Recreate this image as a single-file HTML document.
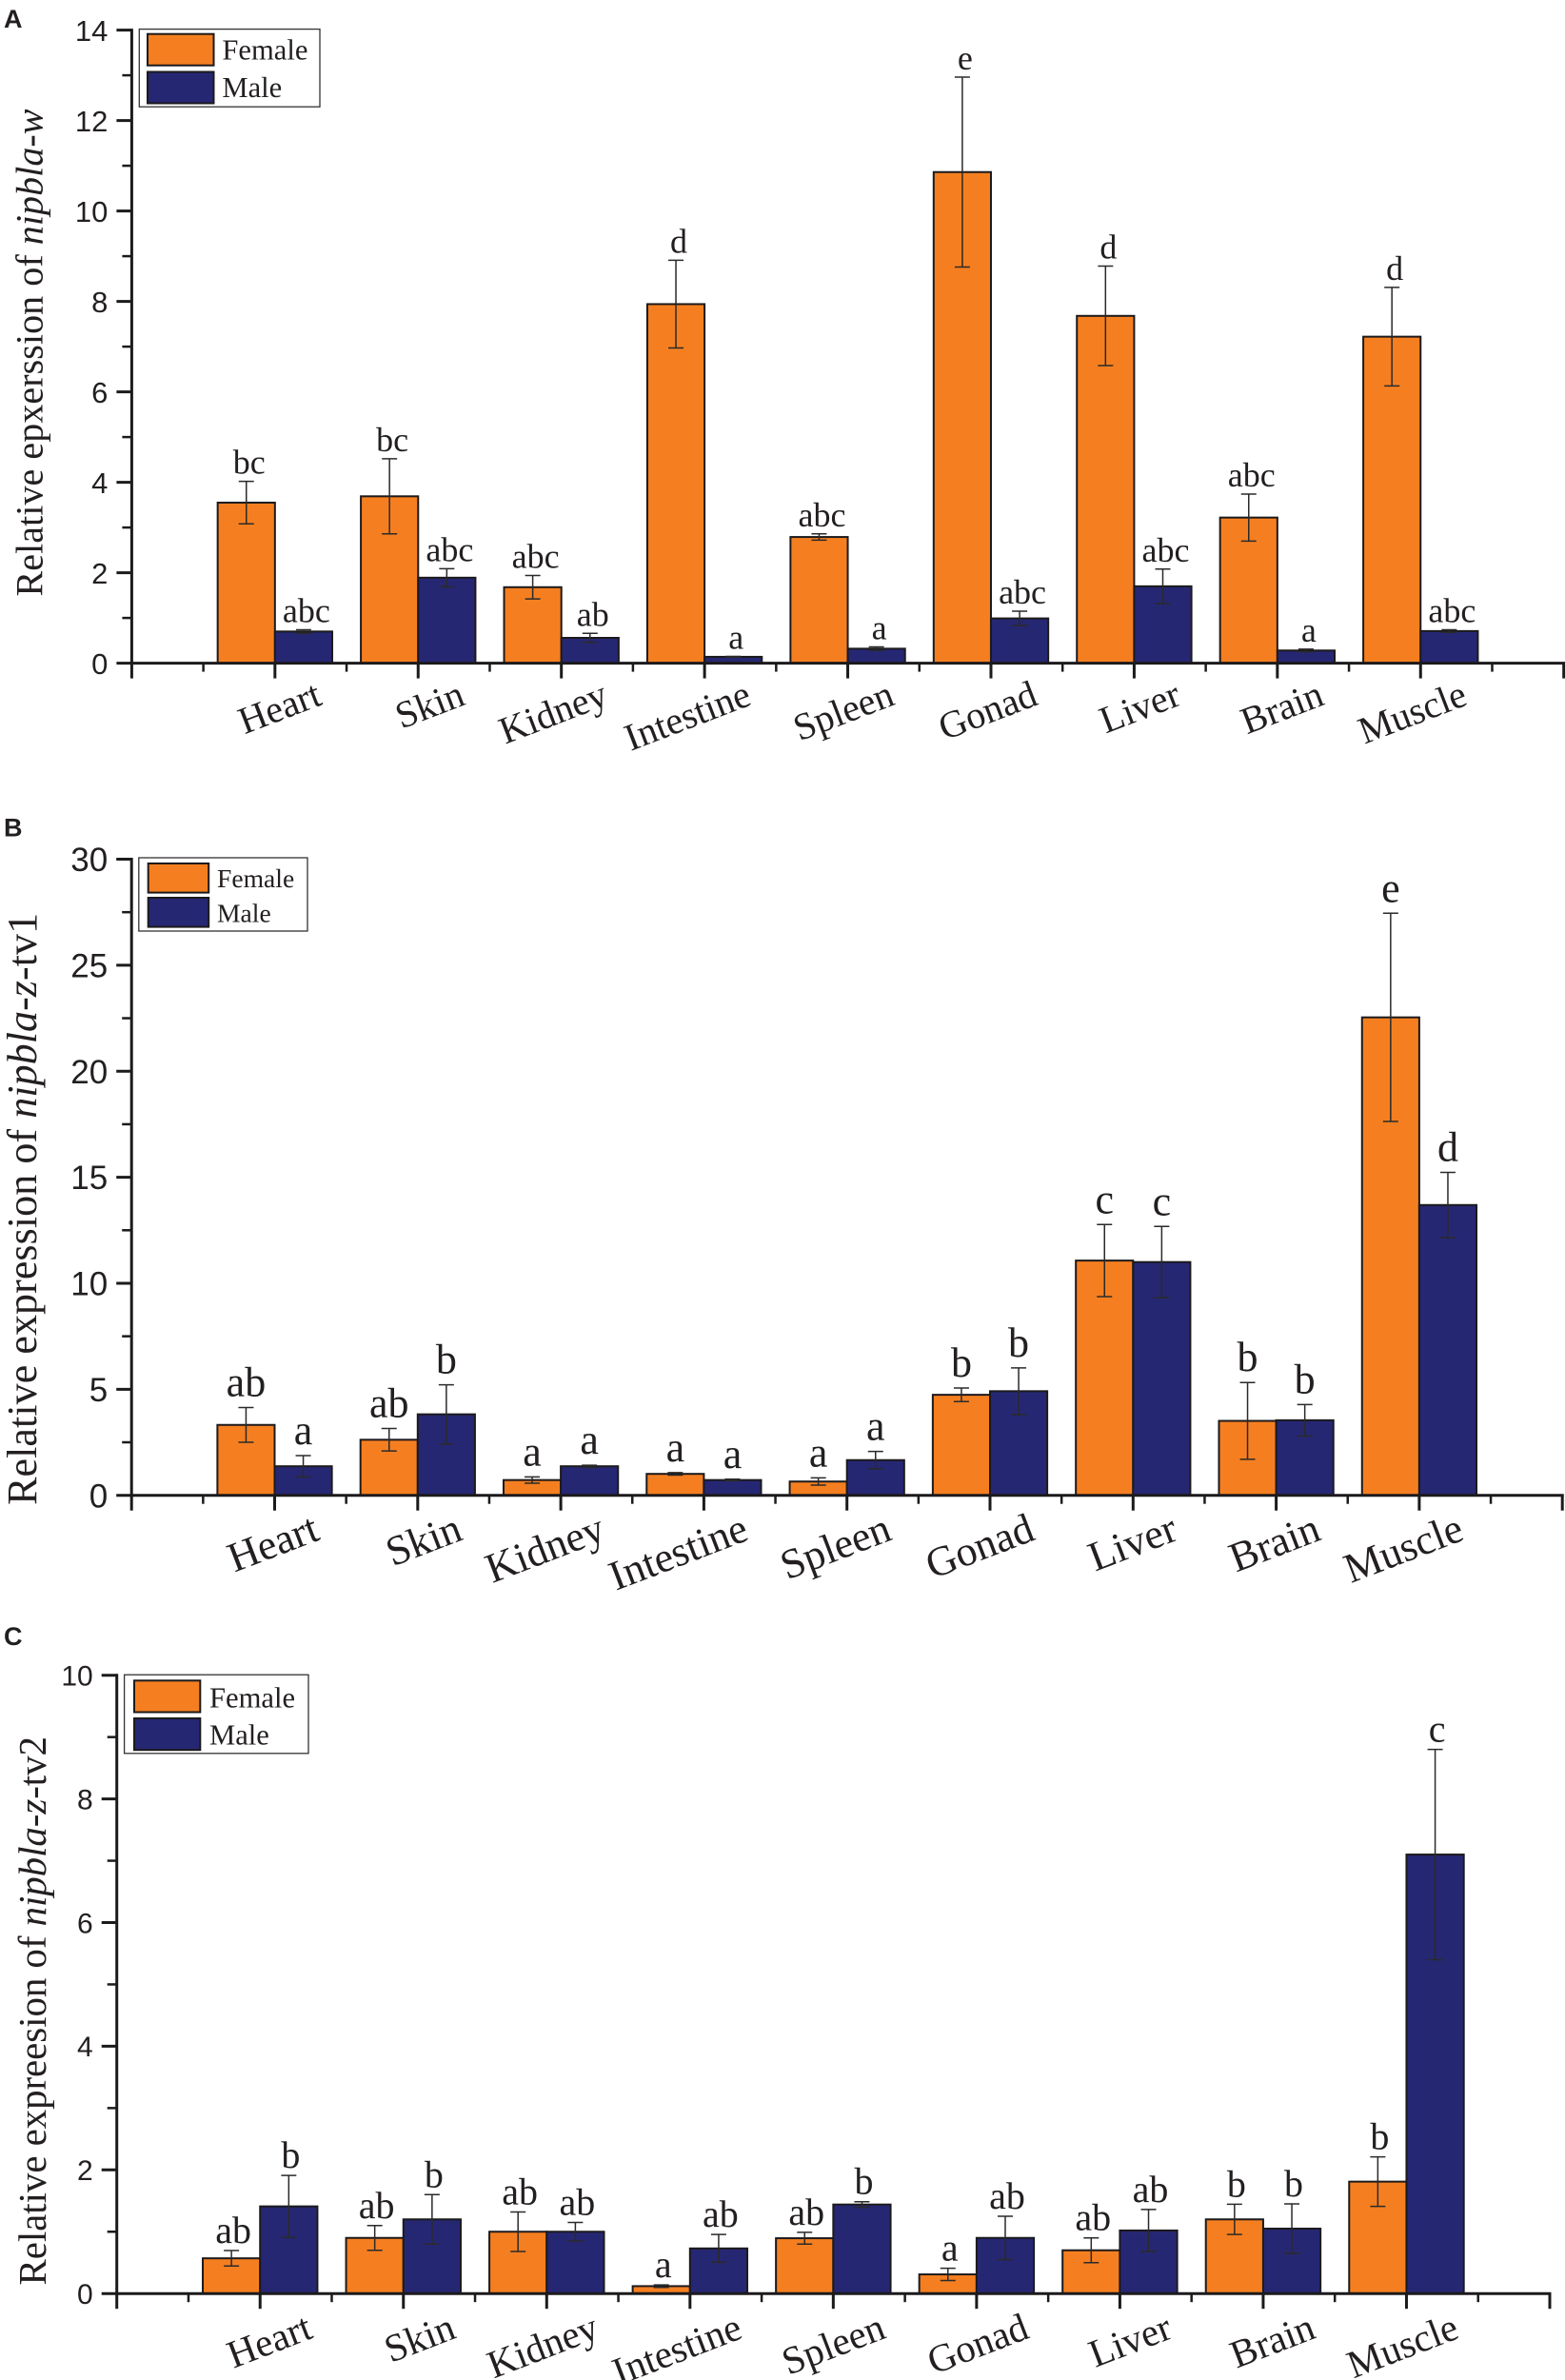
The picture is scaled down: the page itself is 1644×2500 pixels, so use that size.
<!DOCTYPE html>
<html lang="en">
<head>
<meta charset="utf-8">
<title>Relative expression of nipbla in tissues</title>
<style>
html,body{margin:0;padding:0;background:#fff;}
#figure{display:block;width:1644px;height:2500px;}
text{fill:#231f20;}
.serif{font-family:"Liberation Serif",serif;}
.sans{font-family:"Liberation Sans",sans-serif;}
</style>
</head>
<body>
<svg id="figure" xmlns="http://www.w3.org/2000/svg" width="1644" height="2500" viewBox="0 0 1644 2500">
  <rect x="0" y="0" width="1644" height="2500" fill="#fff"/>
</svg>
<script>
const categories = ['Heart','Skin','Kidney','Intestine','Spleen','Gonad','Liver','Brain','Muscle'];

const femaleA = [3.55,3.69,1.68,7.94,2.79,10.86,7.68,3.22,7.22];
const femaleErrA = [0.47,0.83,0.26,0.97,0.07,2.10,1.10,0.52,1.09];
const maleA = [0.70,1.89,0.56,0.14,0.32,0.99,1.70,0.28,0.71];
const maleErrA = [0.04,0.20,0.10,0.01,0.04,0.16,0.38,0.03,0.03];
const femaleLettersA = ['bc','bc','abc','d','abc','e','d','abc','d'];
const maleLettersA = ['abc','abc','ab','a','a','abc','abc','a','abc'];
const yTicksA = ['0','2','4','6','8','10','12','14'];

const femaleB = [3.32,2.62,0.72,1.01,0.65,4.74,11.07,3.51,22.54];
const femaleErrB = [0.82,0.53,0.15,0.06,0.17,0.32,1.70,1.81,4.91];
const maleB = [1.37,3.82,1.37,0.72,1.66,4.91,11.00,3.54,13.69];
const maleErrB = [0.50,1.39,0.05,0.04,0.41,1.10,1.68,0.74,1.54];
const femaleLettersB = ['ab','ab','a','a','a','b','c','b','e'];
const maleLettersB = ['a','b','a','a','a','b','c','b','d'];
const yTicksB = ['0','5','10','15','20','25','30'];

const femaleC = [0.57,0.90,1.00,0.12,0.895,0.31,0.70,1.20,1.81];
const femaleErrC = [0.125,0.20,0.32,0.02,0.095,0.10,0.20,0.245,0.40];
const maleC = [1.41,1.20,1.00,0.73,1.44,0.90,1.02,1.05,7.10];
const maleErrC = [0.50,0.40,0.15,0.225,0.045,0.35,0.34,0.40,1.70];
const femaleLettersC = ['ab','ab','ab','a','ab','a','ab','b','b'];
const maleLettersC = ['b','b','ab','ab','b','ab','ab','b','c'];
const yTicksC = ['0','2','4','6','8','10'];

const SVGNS = 'http://www.w3.org/2000/svg';
const ORANGE = '#f57f20';
const NAVY = '#262773';
const INK = '#1c1a1c';
const root = document.getElementById('figure');

function mk(tag, parent, attrs, txt) {
  const el = document.createElementNS(SVGNS, tag);
  for (const k in attrs) el.setAttribute(k, attrs[k]);
  if (txt !== undefined) el.textContent = txt;
  parent.appendChild(el);
  return el;
}

function drawPanel(p) {
  const g = mk('g', root, {});
  
  

  const maxY = Number(p.yTicks[p.yTicks.length - 1]);
  const yScale = v => p.y0 - (p.y0 - p.yTop) * v / maxY;
  const xScale = v => p.x0 + p.unit * v;
  const barW = p.unit * 0.4;

  const letter = mk('text', g, {x: 4, y: p.letterY, 'font-size': 27, 'font-weight': 'bold', class: 'sans'}, p.id.toUpperCase());
  
  

  // bars and error bars
  [
    {vals: p.female, color: ORANGE, off: -barW},
    {vals: p.male, color: NAVY, off: 0}
  ].forEach(s => {
    s.vals.forEach((v, i) => {
      const cx = xScale(i + 1);
      const left = cx + s.off;
      const bar = mk('rect', g, {x: left, y: yScale(v), width: barW, height: yScale(0) - yScale(v), fill: s.color, stroke: INK, 'stroke-width': 2});
      
      
    });
  });
  [
    {vals: p.female, errs: p.femaleErr, letters: p.femaleLetters, off: -barW / 2},
    {vals: p.male, errs: p.maleErr, letters: p.maleLetters, off: barW / 2}
  ].forEach(s => {
    s.vals.forEach((v, i) => {
      const mx = xScale(i + 1) + s.off;
      const hi = yScale(v + s.errs[i]);
      const lo = yScale(v - s.errs[i]);
      const stem = mk('line', g, {x1: mx, x2: mx, y1: hi, y2: lo, stroke: '#2a2a2a', 'stroke-width': 1.5});
      
      
      const capHi = mk('line', g, {x1: mx - 8, x2: mx + 8, y1: hi, y2: hi, stroke: '#2a2a2a', 'stroke-width': 1.5});
      
      
      const capLo = mk('line', g, {x1: mx - 8, x2: mx + 8, y1: lo, y2: lo, stroke: '#2a2a2a', 'stroke-width': 1.5});
      
      
      const sig = mk('text', g, {x: mx + p.letterDx, y: hi - p.letterGap, 'text-anchor': 'middle', 'font-size': p.letterSize, class: 'serif'}, s.letters[i]);
      
      
    });
  });

  // y axis
  const yAxis = mk('line', g, {x1: p.x0, x2: p.x0, y1: yScale(maxY) - 1.5, y2: yScale(0) + 1.5, stroke: INK, 'stroke-width': 3});
  
  
  p.yTicks.forEach((lab, i) => {
    const v = Number(lab);
    const tick = mk('line', g, {x1: p.x0 - 16, x2: p.x0, y1: yScale(v), y2: yScale(v), stroke: INK, 'stroke-width': 3});
    
    
    const tl = mk('text', g, {x: p.x0 - 25, y: yScale(v) + p.tickSize * 0.36, 'text-anchor': 'end', 'font-size': p.tickSize, class: 'sans'}, lab);
    
    
    if (i < p.yTicks.length - 1) {
      const mv = (v + Number(p.yTicks[i + 1])) / 2;
      const minor = mk('line', g, {x1: p.x0 - 10, x2: p.x0, y1: yScale(mv), y2: yScale(mv), stroke: INK, 'stroke-width': 2.5});
      
      
    }
  });

  // x axis
  const xAxis = mk('line', g, {x1: xScale(0) - 1.5, x2: xScale(10) + 1.5, y1: p.y0, y2: p.y0, stroke: INK, 'stroke-width': 3});
  
  
  for (let i = 0; i <= 10; i++) {
    const tick = mk('line', g, {x1: xScale(i), x2: xScale(i), y1: p.y0, y2: p.y0 + 16, stroke: INK, 'stroke-width': 3});
    
    
    if (i < 10) {
      const minor = mk('line', g, {x1: xScale(i + 0.5), x2: xScale(i + 0.5), y1: p.y0, y2: p.y0 + 9, stroke: INK, 'stroke-width': 2.5});
      
      
    }
  }
  categories.forEach((c, i) => {
    const ax = xScale(i + 1) + p.catDx;
    const ay = p.y0 + p.catDy;
    const cl = mk('text', g, {x: ax, y: ay, 'text-anchor': 'end', 'font-size': p.catSize, class: 'serif', transform: 'rotate(-21 ' + ax + ' ' + ay + ')'}, c);
    
    
  });

  // y title
  const title = mk('text', g, {x: p.titleX, y: p.titleBottom, 'font-size': p.titleSize, class: 'serif', textLength: p.titleLen, lengthAdjust: 'spacing', transform: 'rotate(-90 ' + p.titleX + ' ' + p.titleBottom + ')'});
  
  
  mk('tspan', title, {}, p.titleA);
  mk('tspan', title, {'font-style': 'italic'}, p.titleB);
  mk('tspan', title, {}, p.titleC);

  // legend
  const L = p.legend;
  const lg = mk('g', g, {});
  
  
  const box = mk('rect', lg, {x: L.x, y: L.y, width: L.w, height: L.h, fill: '#fff', stroke: '#333', 'stroke-width': 1.3});
  
  
  [['Female', ORANGE, L.sy1, L.by1], ['Male', NAVY, L.sy2, L.by2]].forEach(e => {
    const sw = mk('rect', lg, {x: L.sx, y: e[2], width: L.sw, height: L.sh, fill: e[1], stroke: INK, 'stroke-width': 2});
    
    
    const t = mk('text', lg, {x: L.tx, y: e[3], 'font-size': L.fs, class: 'serif'}, e[0]);
    
    
  });
}

drawPanel({
  id: 'a', x0: 138.4, unit: 150.43, y0: 696.6, yTop: 31.6,
  female: femaleA, femaleErr: femaleErrA, male: maleA, maleErr: maleErrA,
  femaleLetters: femaleLettersA, maleLetters: maleLettersA, yTicks: yTicksA,
  letterY: 29, letterDx: 3, letterGap: 8, letterSize: 36, tickSize: 31,
  catDx: 51, catDy: 43, catSize: 40,
  titleX: 44.6, titleBottom: 626.5, titleSize: 40, titleLen: 512,
  titleA: 'Relative epxerssion of ', titleB: 'nipbla-w', titleC: '',
  legend: {x: 146.3, y: 30.6, w: 189.7, h: 81.6, sx: 155, sw: 69.5, sh: 33, sy1: 35.7, sy2: 75.5, tx: 233.4, by1: 62.5, by2: 102, fs: 30.6}
});
drawPanel({
  id: 'b', x0: 138.2, unit: 150.3, y0: 1570.7, yTop: 902.5,
  female: femaleB, femaleErr: femaleErrB, male: maleB, maleErr: maleErrB,
  femaleLetters: femaleLettersB, maleLetters: maleLettersB, yTicks: yTicksB,
  letterY: 878.6, letterDx: 0, letterGap: 12, letterSize: 44, tickSize: 35,
  catDx: 49, catDy: 46, catSize: 44,
  titleX: 37.8, titleBottom: 1580.9, titleSize: 44, titleLen: 622,
  titleA: 'Relative expression of ', titleB: 'nipbla-z', titleC: '-tv1',
  legend: {x: 145.8, y: 901, w: 177.2, h: 77, sx: 155.7, sw: 63.5, sh: 30.6, sy1: 907, sy2: 943, tx: 228, by1: 932, by2: 968.6, fs: 27.6}
});
drawPanel({
  id: 'c', x0: 122.7, unit: 150.53, y0: 2409.2, yTop: 1759.7,
  female: femaleC, femaleErr: femaleErrC, male: maleC, maleErr: maleErrC,
  femaleLetters: femaleLettersC, maleLetters: maleLettersC, yTicks: yTicksC,
  letterY: 1728, letterDx: 2, letterGap: 8, letterSize: 40, tickSize: 30,
  catDx: 57, catDy: 46, catSize: 41,
  titleX: 48.2, titleBottom: 2400.5, titleSize: 41, titleLen: 576.5,
  titleA: 'Relative expreesion of ', titleB: 'nipbla-z', titleC: '-tv2',
  legend: {x: 130.6, y: 1759.2, w: 193.4, h: 82.6, sx: 141, sw: 69.3, sh: 33.2, sy1: 1765.3, sy2: 1805, tx: 220, by1: 1793.4, by2: 1832.7, fs: 30.6}
});
</script>
</body>
</html>
